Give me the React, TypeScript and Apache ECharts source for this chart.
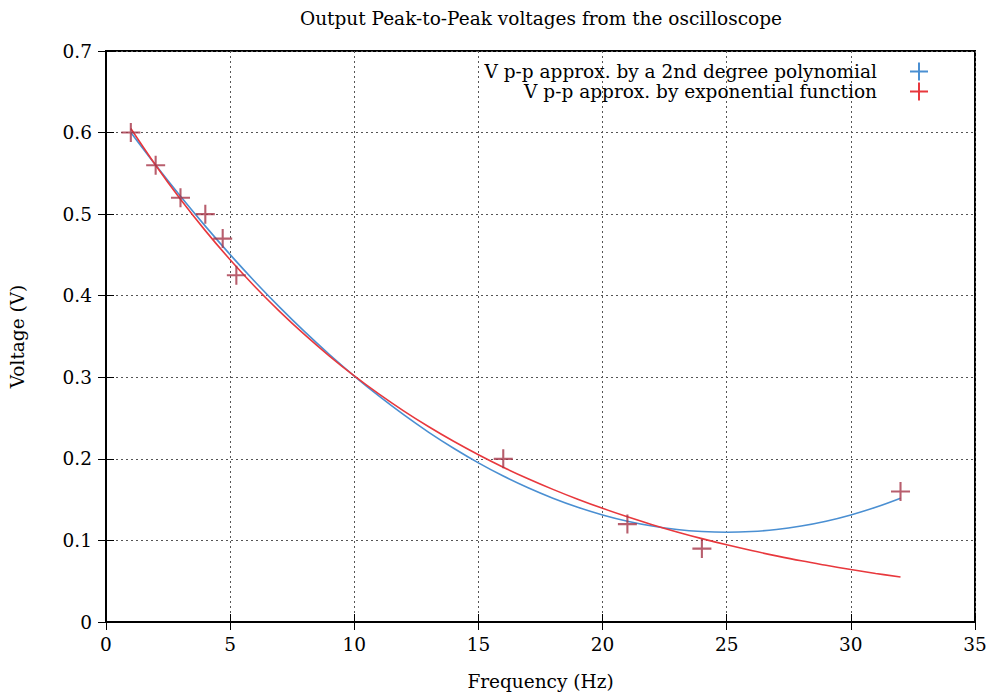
import React, { useEffect, useRef } from "react";
import * as echarts from "echarts";

const measuredFreq = [1, 2, 3, 4, 4.7, 5.25, 16, 21, 24, 32];
const measuredVpp = [0.6, 0.56, 0.52, 0.5, 0.47, 0.425, 0.2, 0.12, 0.09, 0.16];

const curveFreq = [1, 2, 3, 4, 5, 6, 7, 8, 9, 10, 11, 12, 13, 14, 15, 16, 17, 18, 19, 20, 21, 22, 23, 24, 25, 26, 27, 28, 29, 30, 31, 32];
const polyVpp = [0.6002, 0.5602, 0.5219, 0.4853, 0.4504, 0.4172, 0.3857, 0.3559, 0.3279, 0.3015, 0.2768, 0.2538, 0.2325, 0.213, 0.1951, 0.1789, 0.1645, 0.1517, 0.1406, 0.1313, 0.1236, 0.1177, 0.1134, 0.1109, 0.11, 0.1109, 0.1134, 0.1177, 0.1236, 0.1313, 0.1406, 0.1517];
const expVpp = [0.605, 0.56, 0.5183, 0.4798, 0.4441, 0.411, 0.3805, 0.3522, 0.326, 0.3017, 0.2793, 0.2585, 0.2393, 0.2215, 0.205, 0.1897, 0.1756, 0.1626, 0.1505, 0.1393, 0.1289, 0.1193, 0.1104, 0.1022, 0.0946, 0.0876, 0.0811, 0.075, 0.0695, 0.0643, 0.0595, 0.0551];

const polyName = "V p-p approx. by a 2nd degree polynomial";
const expName = "V p-p approx. by exponential function";
const titleText = "Output Peak-to-Peak voltages from the oscilloscope";

const FONT = "'DejaVu Serif', serif";
const FS = 18.5;
const CROSS = "path://M0,4.45h10v1.1h-10z M4.45,0h1.1v10h-1.1z";

export default function App() {
  const ref = useRef<HTMLDivElement>(null);
  useEffect(() => {
    document.body.style.margin = "0";
    const chart = echarts.init(ref.current!, null, { renderer: "svg" });
    const left = 106, right = 15, top = 51, bottom = 68;
    const tickCommon = { show: true, inside: true, length: 8, lineStyle: { color: "#000", width: 1 } };
    const split = { show: true, lineStyle: { color: "#555", type: [2, 3] as any, width: 1 } };
    chart.setOption({
      animation: false,
      backgroundColor: "#fff",
      graphic: [
        {
          type: "text",
          x: 541,
          y: 18,
          style: { text: titleText, align: "center", verticalAlign: "middle", font: `${FS}px ${FONT}`, fill: "#000" },
        },
      ],
      legend: {
        orient: "vertical",
        right: 57,
        top: 57,
        align: "right",
        itemGap: 1,
        itemWidth: 18,
        itemHeight: 18,
        textStyle: { fontFamily: FONT, fontSize: FS, color: "#000", padding: [0, 28, 0, 0] },
        data: [
          { name: polyName, icon: CROSS },
          { name: expName, icon: CROSS },
        ],
      },
      grid: { left, right, top, bottom, show: true, borderColor: "#000", borderWidth: 2 },
      xAxis: [
        {
          type: "value",
          min: 0,
          max: 35,
          interval: 5,
          name: "Frequency (Hz)",
          nameLocation: "middle",
          nameGap: 50,
          nameTextStyle: { fontFamily: FONT, fontSize: FS, color: "#000" },
          axisLine: { show: true, lineStyle: { color: "#000", width: 2 } },
          axisTick: tickCommon,
          axisLabel: { margin: 13, fontFamily: FONT, fontSize: FS, color: "#000" },
          splitLine: split,
        },
        {
          type: "value",
          position: "top",
          min: 0,
          max: 35,
          interval: 5,
          axisLine: { show: true, lineStyle: { color: "#000", width: 2 } },
          axisTick: tickCommon,
          axisLabel: { show: false },
          splitLine: { show: false },
        },
      ],
      yAxis: [
        {
          type: "value",
          min: 0,
          max: 0.7,
          interval: 0.1,
          name: "Voltage (V)",
          nameLocation: "middle",
          nameGap: 79,
          nameTextStyle: { fontFamily: FONT, fontSize: FS, color: "#000" },
          axisLine: { show: true, lineStyle: { color: "#000", width: 2 } },
          axisTick: tickCommon,
          axisLabel: {
            margin: 14,
            fontFamily: FONT,
            fontSize: FS,
            color: "#000",
            formatter: (v: number) => (v === 0 ? "0" : v.toFixed(1)),
          },
          splitLine: split,
        },
        {
          type: "value",
          position: "right",
          min: 0,
          max: 0.7,
          interval: 0.1,
          axisLine: { show: true, lineStyle: { color: "#000", width: 2 } },
          axisTick: tickCommon,
          axisLabel: { show: false },
          splitLine: { show: false },
        },
      ],
      series: [
        {
          name: polyName,
          type: "line",
          smooth: 0.4,
          showSymbol: false,
          color: "#4a8fd2",
          lineStyle: { width: 1.6, color: "#4a8fd2" },
          data: curveFreq.map((x, i) => [x, polyVpp[i]]),
          z: 3,
        },
        {
          name: expName,
          type: "line",
          smooth: 0.4,
          showSymbol: false,
          color: "#e8383d",
          lineStyle: { width: 1.6, color: "#e8383d" },
          data: curveFreq.map((x, i) => [x, expVpp[i]]),
          z: 4,
        },
        {
          name: "measured",
          type: "scatter",
          symbol: CROSS,
          symbolSize: 19,
          itemStyle: { color: "#a63648" },
          data: measuredFreq.map((x, i) => [x, measuredVpp[i]]),
          z: 5,
        },
      ],
    });
    return () => chart.dispose();
  }, []);
  return <div ref={ref} style={{ width: 990, height: 696 }} />;
}
